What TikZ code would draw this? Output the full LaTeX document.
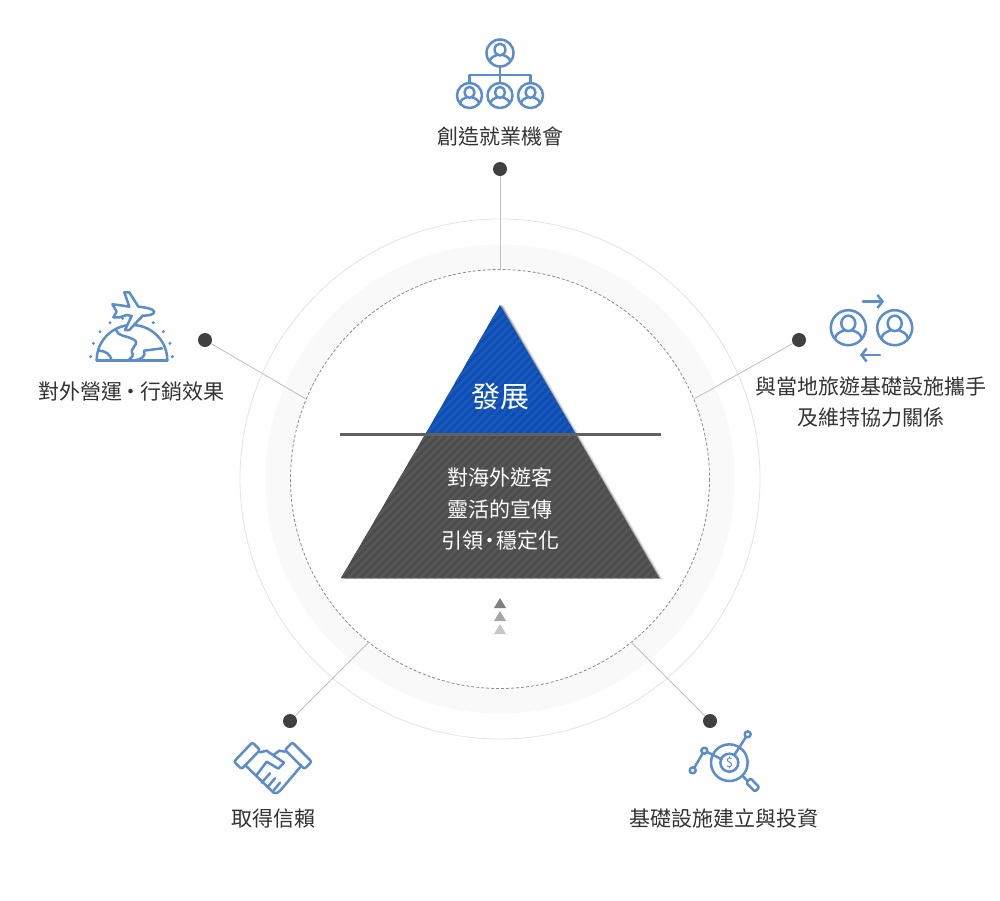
\documentclass[tikz,border=0pt]{standalone}
\usepackage{fontspec}
\setmainfont{Noto Sans CJK TC}
\usetikzlibrary{arrows.meta}
\definecolor{iconblue}{HTML}{5B8CCB}
\definecolor{pyrblue}{HTML}{0C4DB4}
\definecolor{pyrblueb}{HTML}{1A58BC}
\definecolor{pyrgray}{HTML}{4C4C4C}
\definecolor{pyrgrayb}{HTML}{575757}
\tikzset{
  labeltext/.style={text=black!80, font=\fontsize{21}{25}\selectfont, inner sep=0pt, align=center},
  pyrtext/.style={text=white, font=\fontsize{21}{31.5}\selectfont, inner sep=0pt, align=center},
  dotnode/.style={circle, fill=black!75, minimum size=14pt, inner sep=0pt},
  linkline/.style={draw=black!25, line width=0.8pt},
  iconline/.style={draw=iconblue, line width=2.5pt, line cap=round, line join=round},
  personicon/.pic={
    \draw[iconline] (0,0) circle (1);
    \draw[iconline] (0,-0.25) ellipse (0.4 and 0.44);
    \draw[iconline] (-0.76,0.62) .. controls (-0.7,0.3) and (-0.45,0.25) .. (-0.22,0.14);
    \draw[iconline] (0.76,0.62) .. controls (0.7,0.3) and (0.45,0.25) .. (0.22,0.14);
  }
}
\begin{document}
\begin{tikzpicture}[x=1pt,y=-1pt]
    \useasboundingbox (0,0) rectangle (1000,900);
    \fill[white] (0,0) rectangle (1000,900);
    % rings
    \draw[black!11, line width=0.8pt] (500,479) circle (260);
    \draw[black!2.5, line width=25pt] (500,479) circle (222);
    \draw[black!45, line width=0.8pt, densely dashed] (500,479) circle (209.5);
    % connectors
    \node[dotnode] (dottop) at (500,169) {};
    \node[dotnode] (dotleft) at (205,340) {};
    \node[dotnode] (dotright) at (799,340) {};
    \node[dotnode] (dotlow) at (290,721) {};
    \node[dotnode] (dotinv) at (710,721) {};
    \coordinate (rimtop) at (500,270);
    \coordinate (rimleft) at (306,399);
    \coordinate (rimright) at (694,399);
    \coordinate (rimlow) at (369,642);
    \coordinate (riminv) at (631,642);
    \draw[linkline] (dottop) -- (rimtop);
    \draw[linkline] (dotleft) -- (rimleft);
    \draw[linkline] (dotright) -- (rimright);
    \draw[linkline] (dotlow) -- (rimlow);
    \draw[linkline] (dotinv) -- (riminv);
    % pyramid
    \fill[black, opacity=0.15] (503,305) -- (662.5,579) -- (344,579) -- cycle;
    \fill[black, opacity=0.3] (501.5,305) -- (660.5,578.5) -- (342,578.5) -- cycle;
    \begin{scope}
        \clip (500,305) -- (575,433) -- (426,433) -- cycle;
        \fill[pyrblue] (420,300) rectangle (580,436);
        \foreach \k in {0,8,...,320}
            \draw[pyrblueb, line width=2.5pt] (300+\k,440) -- ++(150,-150);
    \end{scope}
    \begin{scope}
        \clip (426,433) -- (575,433) -- (659,578) -- (341,578) -- cycle;
        \fill[pyrgray] (335,430) rectangle (665,580);
        \foreach \k in {0,8,...,480}
            \draw[pyrgrayb, line width=2.5pt] (200+\k,590) -- ++(170,-170);
    \end{scope}
    \coordinate (barl) at (340,434.5);
    \coordinate (barr) at (661,434.5);
    \draw[black!62, line width=3pt] (barl) -- (barr);
    \node[text=white, font=\fontsize{29}{32}\selectfont, inner sep=0pt] (growth) at (500,396.5) {發展};
    \node[pyrtext] (policy) at (500,509) {對海外遊客\\靈活的宣傳\\引領\kern-4pt‧\kern-4pt穩定化};
    % small triangles
    \fill[black!50] (500,598) -- (506,608) -- (494,608) -- cycle;
    \fill[black!35] (500,611) -- (506,621) -- (494,621) -- cycle;
    \fill[black!22] (500,624) -- (506,634) -- (494,634) -- cycle;
    % labels
    \node[labeltext] (jobs) at (500,136.5) {創造就業機會};
    \node[labeltext] (market) at (131,391.5) {對外營運\kern-1.5pt·\kern-1.5pt行銷效果};
    \node[labeltext, font=\fontsize{21}{31}\selectfont] (partner) at (871,402) {與當地旅遊基礎設施攜手\\及維持協力關係};
    \node[labeltext] (trust) at (273,818.5) {取得信賴};
    \node[labeltext] (invest) at (724,818.5) {基礎設施建立與投資};
    % org icon
    \pic[scale=13.5] at (500,53) {personicon};
    \pic[scale=12.5] at (469.5,95.5) {personicon};
    \pic[scale=12.5] at (500,95.5) {personicon};
    \pic[scale=12.5] at (530.5,95.5) {personicon};
    \draw[iconline] (500,66.5) -- (500,83);
    \draw[iconline] (469.5,83) -- (469.5,75) -- (530.5,75) -- (530.5,83);
    % exchange icon
    \pic[scale=17.5] at (848.3,327.7) {personicon};
    \pic[scale=17.5] at (894.7,327.7) {personicon};
    \draw[iconline, -{Straight Barb[length=5pt,width=13pt]}] (863,301.5) -- (884,301.5);
    \draw[iconline, -{Straight Barb[length=5pt,width=13pt]}] (880,355) -- (860,355);
    % globe icon
    \begin{scope}[shift={(70,280)},scale=0.3333]
        \draw[iconline] (80,241) -- (292,241);
        \draw[iconline] (80,241) arc[start angle=180, end angle=0, radius=106, y radius=-106];
        \foreach \px/\py in {62/230,70/190,90/155,120/128,158/115,212/115,250/128,280/155,300/190,307/230}
            \fill[iconblue] (\px,\py) circle (5);
        \draw[iconline, fill=white] (253,95) .. controls (250,86) and (225,82) .. (205,80) -- (178,37) -- (163,37) -- (178,80)
            -- (145,75) -- (127,73) -- (140,95) -- (130,112) -- (148,112) -- (170,105) -- (185,108)
            -- (165,150) -- (178,150) -- (218,107) .. controls (235,107) and (253,104) .. cycle;
        \draw[iconline] (85,212) .. controls (105,212) and (122,222) .. (125,241);
        \draw[iconline] (138,150) .. controls (145,170) and (165,165) .. (190,178)
            .. controls (215,190) and (175,205) .. (188,222) .. controls (190,232) and (178,235) .. (175,241);
        \draw[iconline] (197,241) .. controls (215,236) and (228,230) .. (222,212) -- (276,205);
    \end{scope}
    % handshake icon
    \begin{scope}[shift={(220,710)},scale=0.3333]
        \draw[iconline, rounded corners=2pt] (97,97) -- (120,120) -- (65,177) -- (42,155) -- cycle;
        \draw[iconline, rounded corners=2pt] (217,97) -- (275,155) -- (253,177) -- (195,120) -- cycle;
        \draw[iconline] (120,127) -- (140,122) -- (192,158) -- (175,176) -- (140,155) -- (110,195);
        \draw[iconline] (195,125) -- (178,122) -- (160,135);
        \draw[iconline, rounded corners=2pt] (75,165) -- (165,252) -- (178,245) -- (240,172);
        \draw[iconline] (125,218) -- (150,190);
        \draw[iconline] (142,232) -- (165,205);
        \draw[iconline] (158,245) -- (180,218);
    \end{scope}
    % investment icon
    \begin{scope}[shift={(670,710)},scale=0.3333]
        \draw[iconline] (178,158) circle (55);
        \draw[iconline] (178,158) circle (27);
        \draw[iconline] (68,181) circle (9);
        \draw[iconline] (103,122) circle (9);
        \draw[iconline] (233,73) circle (9);
        \draw[iconline] (73,173) -- (98,130);
        \draw[iconline] (112,126) -- (155,148);
        \draw[iconline] (228,81) -- (193,135);
        \draw[iconline] (218,198) -- (230,210);
        \draw[iconline, rounded corners=1.5pt] (242,205) -- (268,232) -- (255,245) -- (228,218) -- cycle;
    \end{scope}
    \node[text=iconblue, font=\fontsize{13}{14}\selectfont, inner sep=0pt] (dollar) at (729.5,762.7) {\$};
\end{tikzpicture}
\end{document}
